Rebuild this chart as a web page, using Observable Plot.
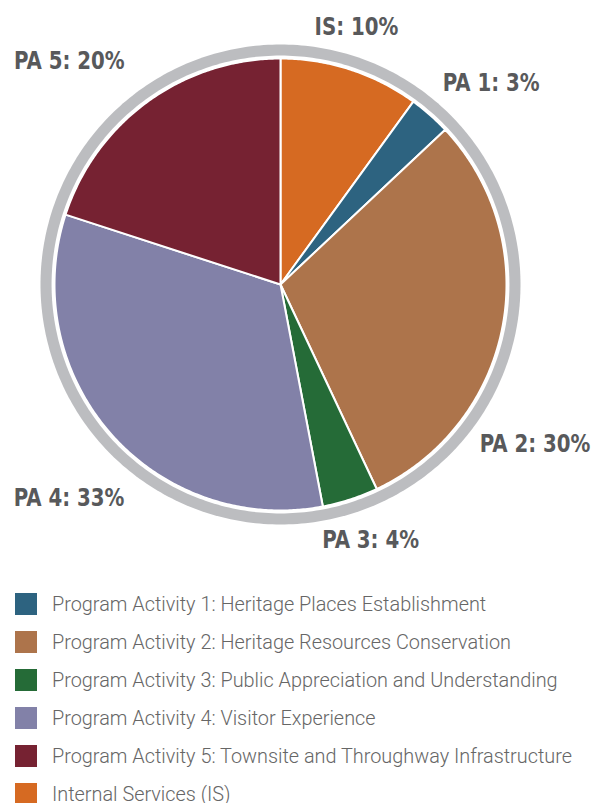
<!DOCTYPE html>
<html>
<head>
<meta charset="utf-8">
<script src="https://cdn.jsdelivr.net/npm/d3@7"></script>
<script src="https://cdn.jsdelivr.net/npm/@observablehq/plot@0.6"></script>
<style>
  html, body { margin: 0; padding: 0; background: #fff; }
  #chart svg { display: block; }
  .legend { margin-top: 10px; font-family: Roboto, "DejaVu Sans Condensed", sans-serif; color: #666; font-size: 21px; font-weight: 300; }
  .row { display: flex; align-items: center; height: 38px; white-space: nowrap; }
  .sw { width: 22px; height: 22px; margin-left: 15px; margin-right: 15px; flex: none; }
  .lt { display: inline-block; transform-origin: left center; }
</style>
</head>
<body>
<div id="chart"></div>
<div class="legend" id="legend"></div>
<script>
// ---- data ----
const codes = ["IS", "PA 1", "PA 2", "PA 3", "PA 4", "PA 5"];
const shares = [10, 3, 30, 4, 33, 20];
const colors = ["#d66a22", "#2d6380", "#ad744b", "#256b37", "#8281a8", "#762232"];
const legendNames = [
  "Program Activity 1: Heritage Places Establishment",
  "Program Activity 2: Heritage Resources Conservation",
  "Program Activity 3: Public Appreciation and Understanding",
  "Program Activity 4: Visitor Experience",
  "Program Activity 5: Townsite and Throughway Infrastructure",
  "Internal Services (IS)"
];
const legendCodes = ["PA 1", "PA 2", "PA 3", "PA 4", "PA 5", "IS"];

// ---- layout (label placement, in pie-radius units / degrees clockwise from top) ----
const labelAngle = [16.4, 46.3, 122.1, 160.6, 224.7, 316.6];
const labelRadius = [1.19, 1.29, 1.33, 1.20, 1.33, 1.36];
const ringOuter = 1.062, ringInner = 1.013;

// ---- geometry from values ----
const pie = d3.pie().sort(null).value(d => d.share);
const rows = codes.map((c, i) => ({code: c, share: shares[i], color: colors[i]}));
const arcs = pie(rows);
function pt(a, r) { return [r * Math.sin(a), -r * Math.cos(a)]; }
function circle(r) {
  const ring = d3.range(0, 361, 1).map(d => pt(d * Math.PI / 180, r));
  return {type: "Feature", properties: {}, geometry: {type: "Polygon", coordinates: [ring]}};
}
const slices = arcs.map(a => {
  const n = Math.max(2, Math.ceil((a.endAngle - a.startAngle) / (Math.PI / 360)));
  const ring = [[0, 0]];
  for (let k = 0; k <= n; k++) ring.push(pt(a.startAngle + (a.endAngle - a.startAngle) * k / n, 1));
  ring.push([0, 0]);
  return {type: "Feature", properties: {code: a.data.code, color: a.data.color}, geometry: {type: "Polygon", coordinates: [ring]}};
});
const labels = codes.map((c, i) => {
  const [x, y] = pt(labelAngle[i] * Math.PI / 180, labelRadius[i]);
  return {x, y, text: `${c}: ${shares[i]}%`};
});

const W = 595, H = 575;
const chart = Plot.plot({
  width: W, height: H,
  margin: 0,
  projection: {type: "identity", domain: circle(ringOuter), insetLeft: 40, insetRight: 75, insetTop: 44, insetBottom: 51},
  marks: [
    Plot.geo([circle(ringOuter)], {fill: "#bcbdc0"}),
    Plot.geo([circle(ringInner)], {fill: "#ffffff"}),
    Plot.geo(slices, {fill: d => d.properties.color, stroke: "#ffffff", strokeWidth: 2, strokeLinejoin: "round"}),
    Plot.text(labels, {x: "x", y: "y", text: "text", fill: "#58595b", fontSize: 25, fontWeight: "bold",
      fontFamily: "'DejaVu Sans Condensed', Roboto, sans-serif", textAnchor: "middle", lineAnchor: "middle"})
  ]
});
// narrow the bold labels (condensed face in the reference)
d3.select(chart).selectAll("text").each(function() {
  const t = d3.select(this);
  const tr = t.attr("transform");
  if (tr) t.attr("transform", `${tr} scale(0.88,1)`);
});
document.getElementById("chart").appendChild(chart);

const lg = document.getElementById("legend");
legendCodes.forEach((c, i) => {
  const idx = codes.indexOf(c);
  const row = document.createElement("div");
  row.className = "row";
  row.innerHTML = `<div class="sw" style="background:${colors[idx]}"></div><span class="lt">${legendNames[i]}</span>`;
  lg.appendChild(row);
});
// condense legend text to the reference's narrow face
const longest = d3.max(lg.querySelectorAll(".lt"), s => s.getBoundingClientRect().width);
lg.querySelectorAll(".lt").forEach(s => s.style.transform = `scaleX(${Math.min(1, 520 / longest)})`);
</script>
</body>
</html>
